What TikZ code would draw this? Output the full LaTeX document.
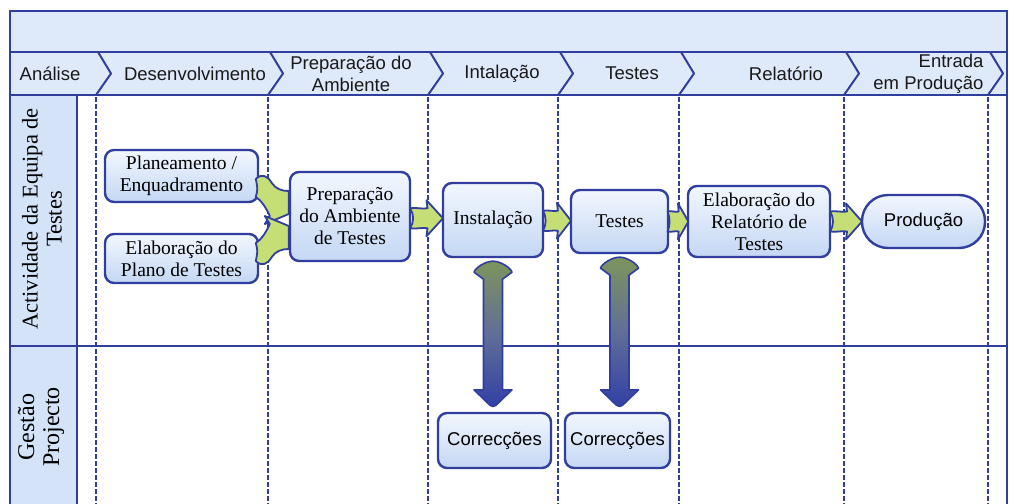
\documentclass[tikz,border=0pt]{standalone}
\usepackage{fontspec}
\setmainfont{Liberation Serif}
\newfontfamily\labelsans{Liberation Sans}
\usetikzlibrary{calc}

\definecolor{frameblue}{RGB}{48,62,158}
\definecolor{bandblue}{RGB}{222,233,250}
\definecolor{lanecol}{RGB}{212,227,248}
\definecolor{boxtop}{RGB}{242,247,254}
\definecolor{boxbot}{RGB}{196,215,244}
\definecolor{leafgreen}{RGB}{198,222,118}
\definecolor{arrtop}{RGB}{125,148,92}
\definecolor{arrmid}{RGB}{96,110,152}
\definecolor{arrbot}{RGB}{50,64,166}

\tikzset{
  frame/.style={draw=frameblue, line width=2.4pt},
  lanedash/.style={draw=frameblue, line width=2.4pt, dash pattern=on 4.5pt off 2.5pt},
  phase/.style={font=\labelsans\fontsize{18.5}{22}\selectfont, align=center, text=black!90},
  task/.style={draw=frameblue, line width=2.4pt, rounded corners=9pt,
    top color=boxtop, bottom color=boxbot, align=center, inner sep=0pt,
    font=\fontsize{19.5}{22}\selectfont},
  sanstask/.style={task, font=\labelsans\fontsize{18.5}{22}\selectfont},
  lanelabel/.style={rotate=90, align=center},
  leaf/.style={fill=leafgreen, draw=frameblue, line width=1.8pt, line join=round},
  shaft/.style={draw=frameblue, line width=1.6pt, line join=round,
    top color=arrtop, bottom color=arrbot, middle color=arrmid},
  % small green block arrow, centred, pointing right
  garrow/.pic={
    \path[leaf] (-16,-10) .. controls (-10,-11) and (-4,-9) .. (1,-10) -- (0,-18)
      -- (16,0) -- (0,18) -- (1,10) .. controls (-4,9) and (-10,11) .. (-16,10)
      .. controls (-12,4) and (-12,-4) .. (-16,-10) -- cycle;},
  % bent arrow whose flat head rests on a box's left edge
  mergearrow/.pic={
    \path[leaf] (-33,-41) .. controls (-27,-47) and (-21,-44) .. (-17,-37)
      .. controls (-13,-31) and (-7,-29) .. (0,-29) -- (0,-6) -- (-24,4)
      -- (-19,-4) .. controls (-23,-13) and (-28,-20) .. (-33,-23)
      .. controls (-31,-31) .. (-33,-41) -- cycle;}
}

% thick two-headed arrow between the bottom of #1 and the top of #2
\newcommand\linkarrow[2]{%
  \path[shaft] let \p1=(#1.south), \p2=(#2.north) in
    (\x1,\y1-3pt) .. controls (\x1+8pt,\y1-3pt) and (\x1+18pt,\y1-10pt) .. (\x1+19pt,\y1-14pt)
    -- (\x1+9.5pt,\y1-21pt) -- (\x1+9.5pt,\y2+22pt) -- (\x1+19pt,\y2+22pt)
    -- (\x1+3pt,\y2+6.5pt) .. controls (\x1+1.5pt,\y2+5pt) and (\x1-1.5pt,\y2+5pt) .. (\x1-3pt,\y2+6.5pt)
    -- (\x1-19pt,\y2+22pt) -- (\x1-9.5pt,\y2+22pt) -- (\x1-9.5pt,\y1-21pt) -- (\x1-19pt,\y1-14pt)
    .. controls (\x1-18pt,\y1-10pt) and (\x1-8pt,\y1-3pt) .. (\x1,\y1-3pt) -- cycle;}

\begin{document}
\begin{tikzpicture}[x=1pt,y=-1pt]
\useasboundingbox (0,0) rectangle (1014,503);
\fill[white] (0,0) rectangle (1014,503);

% header bands and lane title column
\fill[bandblue] (10,11) rectangle (1007,95);
\fill[lanecol] (10,95) rectangle (77,510);

% lane separators (dotted)
\foreach \x in {96,268,428,558,679,844,988}
  \draw[lanedash] (\x,97) -- (\x,510);

% frame
\draw[frame] (10,510) -- (10,11) -- (1007,11) -- (1007,510);
\draw[frame] (10,52) -- (1007,52);
\draw[frame] (10,95) -- (1007,95);
\draw[frame] (10,346) -- (1007,346);
\draw[frame] (77,95) -- (77,510);

% phase chevrons
\foreach \x in {96,268,428,558,679,844,988}
  \draw[frame, line width=2pt, line join=round] (\x+2,52) -- (\x+15,73.5) -- (\x,95);

% phase titles
\node[phase] (ph1) at (50,73.5) {Análise};
\node[phase] (ph2) at (195,73.5) {Desenvolvimento};
\node[phase] (ph3) at (351,73.5) {Preparação do\\Ambiente};
\node[phase] (ph4) at (502,73.5) {Intalação};
\node[phase] (ph5) at (632,73.5) {Testes};
\node[phase] (ph6) at (786,73.5) {Relatório};
\node[phase, align=right, anchor=east] (ph7) at (987,73.5) {Entrada\\em Produção};

% lane titles
\node[lanelabel, font=\fontsize{22.5}{24}\selectfont] (lane1) at (42,219) {Actividade da Equipa de\\Testes};
\node[lanelabel, font=\fontsize{24}{25}\selectfont] (lane2) at (41,427) {Gestão\\Projecto};

% activities
\node[task, minimum width=153pt, minimum height=52pt] (plan) at (181.5,176) {Planeamento /\\Enquadramento};
\node[task, minimum width=153pt, minimum height=49pt] (elab) at (181.5,258.5) {Elaboração do\\Plano de Testes};
\node[task, minimum width=120pt, minimum height=89pt] (prep) at (350,216.5) {Preparação\\do Ambiente\\de Testes};
\node[task, minimum width=100pt, minimum height=74pt] (inst) at (493,220) {Instalação};
\node[task, minimum width=97pt, minimum height=63pt] (test) at (619.5,221.5) {Testes};
\node[task, minimum width=142pt, minimum height=71pt] (rel) at (759,221.5) {Elaboração do\\Relatório de\\Testes};
\node[sanstask, rounded corners=26pt, minimum width=123pt, minimum height=53pt] (prod) at (923.5,221.5) {Produção};
\node[sanstask, minimum width=113pt, minimum height=55pt] (corr1) at (494.5,440.5) {Correcções};
\node[sanstask, minimum width=105pt, minimum height=55pt] (corr2) at (617.5,440.5) {Correcções};

% flow arrows
\pic at ($(prep.west)+(0,3.5)$) {mergearrow};
\pic[yscale=-1] at ($(prep.west)+(0,3.5)$) {mergearrow};
\pic[xscale=1.03] at ($(prep.east)!.5!(inst.west)$) {garrow};
\pic[xscale=0.875] at ($(inst.east)!.5!(test.west)$) {garrow};
\pic[xscale=0.65] at ($(test.east)!.5!(rel.west)$) {garrow};
\pic at ($(rel.east)!.5!(prod.west)$) {garrow};

% corrections loops
\linkarrow{inst}{corr1}
\linkarrow{test}{corr2}
\end{tikzpicture}
\end{document}
